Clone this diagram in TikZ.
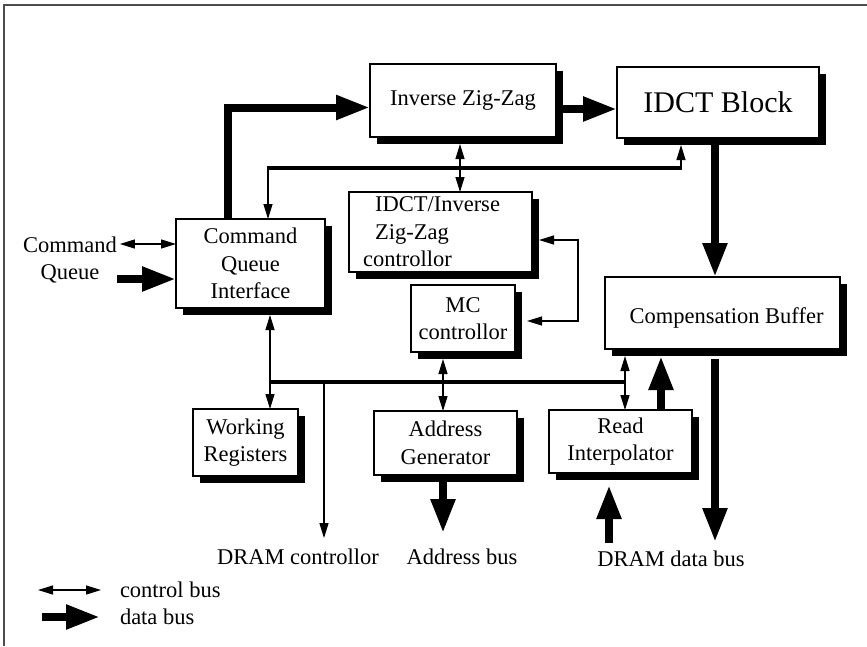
\documentclass[tikz,border=0pt]{standalone}
\usepackage{fontspec}
\setmainfont{Liberation Serif}
\usetikzlibrary{arrows.meta,shadows,calc}

\begin{document}
\begin{tikzpicture}[x=1pt,y=-1pt,
  block/.style={draw=black, line width=1.2pt, fill=white, inner sep=0pt, outer sep=0pt,
    align=center, anchor=north west, font=\fontsize{22.5}{27.5}\selectfont,
    drop shadow={shadow xshift=7pt, shadow yshift=-7pt, fill=black, opacity=1}},
  lbl/.style={inner sep=0pt, outer sep=0pt, align=center, font=\fontsize{22.5}{27.5}\selectfont},
  ctl/.style={line width=1.3pt, >={Triangle[length=15pt,width=9pt]}},
  data/.style={line width=8pt, -{Triangle[length=34pt,width=23pt]}},
  busline/.style={line width=4.5pt},
]
\useasboundingbox (0,0) rectangle (867,646);

% partial frame
\draw[black!70, line width=1.5pt] (4,646) -- (4,5) -- (867,5);

% functional blocks
\node[block, minimum width=186pt, minimum height=73pt] (iz) at (370,64) {Inverse Zig-Zag};
\node[block, minimum width=202pt, minimum height=71pt, font=\fontsize{30}{36}\selectfont] (idct) at (617,67) {IDCT Block};
\node[block, minimum width=149pt, minimum height=89pt] (cqi) at (176,219) {Command\\Queue\\Interface};
\node[block, minimum width=183pt, minimum height=80pt, align=left] (izc) at (349,192)
  {\hspace*{12pt}IDCT/Inverse\hspace*{18pt}\\\hspace*{12pt}Zig-Zag\\controllor};
\node[block, minimum width=104pt, minimum height=67pt] (mc) at (411,285) {MC\\controllor};
\node[block, minimum width=235pt, minimum height=72pt] (cb) at (605,277)
  {\hspace*{8pt}\raisebox{-5pt}[\height][\depth]{Compensation Buffer}};
\node[block, minimum width=105pt, minimum height=67pt] (wr) at (193,409) {Working\\Registers};
\node[block, minimum width=143pt, minimum height=64pt] (ag) at (374,411) {Address\\Generator};
\node[block, minimum width=143pt, minimum height=63pt] (ri) at (549,410) {Read\\Interpolator};

% external labels
\node[lbl] (cq) at (70,260) {Command\\Queue};
\node[lbl] (dc) at (298,557) {DRAM controllor};
\node[lbl] (ab) at (462,557) {Address bus};
\node[lbl] (ddb) at (671,559) {DRAM data bus};
\node[lbl, anchor=west] (lc) at (120,590) {control bus};
\node[lbl, anchor=west] (ld) at (120,617) {data bus};

% data paths
\coordinate (cqiUp) at ([xshift=-22.5pt]cqi.north);
\coordinate (izIn) at ([yshift=-7pt]iz.west);
\draw[data] (cqiUp) |- (izIn);

\coordinate (izOut) at ([yshift=-8.5pt]iz.east);
\draw[data] (izOut) -- (izOut -| idct.west);

\coordinate (idctOut) at ([xshift=-3pt]idct.south);
\draw[data] (idctOut) -- (idctOut |- cb.north);

% control ring linking the interface, zig-zag and IDCT
\coordinate (ringL) at (268,168);
\coordinate (ringR) at (681,168);
\draw[busline] ([xshift=-0.7pt]ringL) -- ([xshift=0.7pt]ringR);
\draw[ctl,->] (ringL) -- (ringL |- cqi.north);
\draw[ctl,->,shorten >=7pt] (ringR) -- (ringR |- idct.south);

\coordinate (izDown) at ([xshift=-3pt]iz.south);
\draw[ctl,<->,shorten <=7pt] (izDown) -- (izDown |- izc.north);

% command queue
\coordinate (cqiA) at ([yshift=19.5pt]cqi.west);
\coordinate (cqiB) at ([yshift=-15.5pt]cqi.west);
\draw[ctl,<->,shorten <=3pt] (cq.east |- cqiA) -- (cqiA);
\draw[data] (cq.east |- cqiB) -- (cqiB);

% controller loop
\coordinate (izcR) at ([yshift=-8pt]izc.east);
\coordinate (mcR) at ([yshift=-2.5pt]mc.east);
\coordinate (loopX) at (578,280);
\draw[ctl,<->,shorten <=7pt,shorten >=12pt] (izcR) -| (loopX) |- (mcR);

\coordinate (mcDown) at ([xshift=-20pt]mc.south);
\draw[ctl,<->,shorten <=7pt] (mcDown) -- (mcDown |- ag.north);

\coordinate (cqiDown) at ([xshift=19.5pt]cqi.south);
\draw[ctl,<->,shorten <=7pt] (cqiDown) -- (cqiDown |- wr.north);

% lower control bus
\coordinate (riUp) at ([xshift=4.5pt]ri.north);
\coordinate (busY) at (0,382);
\draw[busline] (cqiDown |- busY) -- (riUp |- busY);
\draw[ctl,<->,shorten >=7pt] (riUp) -- (riUp |- cb.south);

\coordinate (dcTap) at (324,382);
\draw[ctl,->,shorten >=11pt] (dcTap) -- (dcTap |- dc.north);

% memory side data paths
\coordinate (agDown) at ([xshift=-2.5pt]ag.south);
\draw[data,shorten <=7pt,shorten >=16pt] (agDown) -- (agDown |- ab.north);

\coordinate (riUpData) at ([xshift=40.5pt]ri.north);
\draw[data,shorten >=7pt] (riUpData) -- (riUpData |- cb.south);

\coordinate (cbDown) at ([xshift=-7.5pt]cb.south);
\draw[data,shorten <=10pt,shorten >=9pt] (cbDown) -- (cbDown |- ddb.north);

\coordinate (riDown) at ([xshift=-11.5pt]ri.south);
\draw[data,shorten <=8pt,shorten >=12pt] (riDown |- ddb.north) -- (riDown);

% legend
\coordinate (lgC) at (38,590);
\coordinate (lgD) at (42,617);
\draw[ctl,<->,shorten >=19pt] (lgC) -- (lc.west);
\draw[data,shorten >=20pt] (lgD) -- (ld.west);
\end{tikzpicture}
\end{document}
